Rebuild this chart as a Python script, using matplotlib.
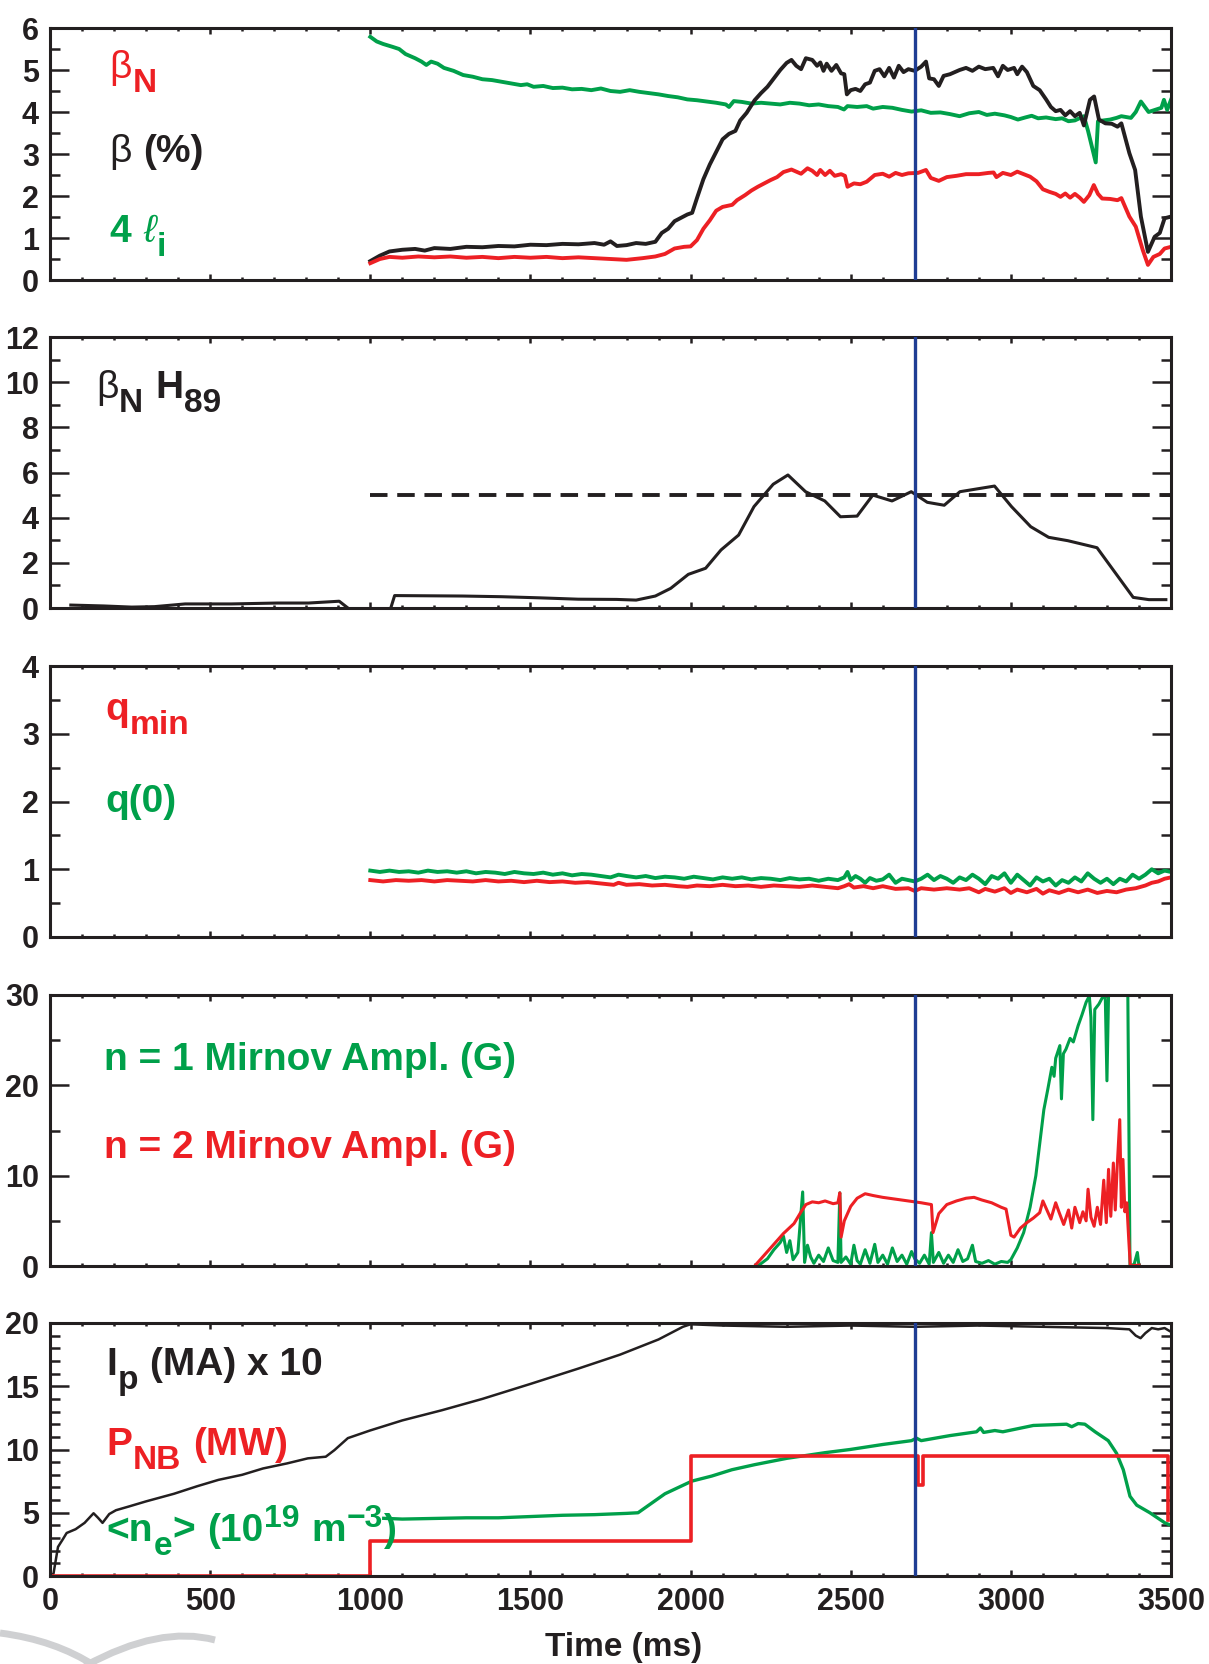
import matplotlib
matplotlib.use("Agg")
import matplotlib.pyplot as plt
from matplotlib import font_manager
from matplotlib.ticker import MultipleLocator
from matplotlib.path import Path
from matplotlib.patches import PathPatch

RED = '#ed2024'
GREEN = '#00a04a'
BLACK = '#231f20'
BLUE = '#1f3d94'
T_MARK = 2700

# panel 1: beta (%), beta_N, 4 li
t_beta = [1000, 1030, 1060, 1100, 1140, 1170, 1200, 1250, 1300, 1350, 1400, 1450, 1500, 1550,
          1600, 1650, 1700, 1730, 1750, 1770, 1800, 1830, 1860, 1890, 1910, 1930, 1950, 1970,
          1990, 2005, 2020, 2040, 2060, 2080, 2100, 2120, 2140, 2155, 2175, 2200, 2220, 2240,
          2260, 2280, 2300, 2315, 2330, 2345, 2360, 2380, 2395, 2405, 2415, 2425, 2440, 2455,
          2470, 2480, 2488, 2500, 2515, 2530, 2545, 2560, 2575, 2590, 2605, 2620, 2635, 2650,
          2665, 2680, 2700, 2720, 2735, 2745, 2760, 2775, 2790, 2810, 2840, 2860, 2880, 2900,
          2920, 2945, 2960, 2975, 2990, 3010, 3020, 3035, 3050, 3070, 3090, 3110, 3125, 3140,
          3155, 3170, 3185, 3200, 3215, 3228, 3247, 3260, 3275, 3295, 3315, 3333, 3345, 3370,
          3388, 3406, 3428, 3449, 3465, 3480, 3500]
beta = [0.45, 0.58, 0.68, 0.72, 0.74, 0.70, 0.76, 0.74, 0.79, 0.78, 0.81, 0.80, 0.84, 0.83,
        0.86, 0.85, 0.88, 0.84, 0.92, 0.81, 0.83, 0.88, 0.86, 0.91, 1.12, 1.22, 1.40, 1.48,
        1.56, 1.60, 1.95, 2.40, 2.75, 3.05, 3.35, 3.48, 3.55, 3.80, 3.98, 4.28, 4.45, 4.60,
        4.80, 5.00, 5.17, 5.24, 5.10, 5.02, 5.28, 5.24, 5.10, 5.18, 4.98, 5.15, 4.98, 5.12,
        4.92, 4.90, 4.42, 4.52, 4.55, 4.50, 4.66, 4.70, 4.98, 5.02, 4.85, 5.05, 4.82, 5.10,
        4.95, 5.02, 4.98, 5.08, 5.20, 4.80, 4.78, 4.62, 4.86, 4.90, 5.00, 5.05, 4.98, 5.08,
        5.02, 5.05, 4.85, 5.10, 5.00, 5.05, 4.90, 5.08, 4.95, 4.62, 4.52, 4.30, 4.12, 4.02,
        4.05, 3.92, 4.02, 3.90, 3.98, 3.68, 4.29, 4.37, 3.82, 3.73, 3.72, 3.65, 3.73, 3.02,
        2.62, 1.51, 0.67, 1.03, 1.12, 1.47, 1.51]

t_betan = [1000, 1030, 1060, 1100, 1150, 1200, 1250, 1300, 1350, 1400, 1450, 1500, 1550, 1600,
           1650, 1700, 1750, 1800, 1850, 1890, 1920, 1950, 1980, 2000, 2020, 2040, 2060, 2080,
           2100, 2130, 2145, 2170, 2190, 2210, 2230, 2250, 2270, 2290, 2315, 2330, 2345, 2365,
           2380, 2395, 2405, 2420, 2435, 2450, 2470, 2482, 2490, 2510, 2530, 2550, 2575, 2600,
           2620, 2640, 2660, 2680, 2710, 2735, 2750, 2775, 2800, 2830, 2860, 2900, 2930, 2946,
           2955, 2975, 3000, 3020, 3040, 3060, 3080, 3100, 3120, 3140, 3155, 3170, 3185, 3200,
           3215, 3228, 3245, 3259, 3272, 3285, 3310, 3333, 3345, 3370, 3390, 3412, 3428, 3445,
           3465, 3480, 3500]
betan = [0.40, 0.50, 0.55, 0.53, 0.56, 0.54, 0.56, 0.53, 0.55, 0.52, 0.55, 0.53, 0.55, 0.52,
         0.54, 0.52, 0.50, 0.48, 0.52, 0.56, 0.62, 0.75, 0.79, 0.80, 0.95, 1.22, 1.42, 1.65,
         1.74, 1.79, 1.90, 2.02, 2.13, 2.22, 2.30, 2.38, 2.45, 2.57, 2.63, 2.58, 2.53, 2.66,
         2.60, 2.50, 2.62, 2.50, 2.60, 2.48, 2.52, 2.48, 2.22, 2.30, 2.28, 2.34, 2.50, 2.53,
         2.46, 2.55, 2.50, 2.54, 2.55, 2.62, 2.43, 2.36, 2.45, 2.48, 2.52, 2.52, 2.55, 2.56,
         2.45, 2.55, 2.50, 2.58, 2.52, 2.46, 2.35, 2.16, 2.10, 2.05, 1.98, 2.06, 1.96, 2.05,
         1.96, 1.86, 2.02, 2.26, 2.05, 1.94, 1.93, 1.90, 1.95, 1.51, 1.27, 0.71, 0.36, 0.55,
         0.62, 0.75, 0.79]

t_li = [1000, 1020, 1040, 1070, 1090, 1110, 1140, 1160, 1175, 1190, 1210, 1230, 1260, 1290,
        1320, 1350, 1380, 1410, 1440, 1470, 1490, 1510, 1540, 1570, 1600, 1630, 1660, 1690,
        1720, 1750, 1780, 1810, 1840, 1870, 1900, 1930, 1960, 1990, 2020, 2050, 2080, 2110,
        2120, 2135, 2160, 2190, 2220, 2250, 2280, 2310, 2340, 2370, 2400, 2430, 2460, 2479,
        2490, 2520, 2550, 2570, 2600, 2630, 2660, 2690, 2720, 2750, 2780, 2810, 2840, 2870,
        2900, 2925, 2950, 2980, 3000, 3022, 3045, 3065, 3085, 3110, 3140, 3160, 3180, 3200,
        3228, 3241, 3265, 3272, 3290, 3310, 3330, 3345, 3375, 3390, 3406, 3430, 3450, 3470,
        3478, 3488, 3500]
li4 = [5.79, 5.68, 5.62, 5.55, 5.50, 5.38, 5.28, 5.20, 5.12, 5.20, 5.15, 5.05, 4.98, 4.88,
       4.84, 4.78, 4.76, 4.72, 4.68, 4.64, 4.66, 4.60, 4.62, 4.57, 4.58, 4.54, 4.55, 4.52,
       4.56, 4.50, 4.48, 4.52, 4.48, 4.45, 4.42, 4.38, 4.35, 4.30, 4.28, 4.25, 4.22, 4.18,
       4.12, 4.26, 4.24, 4.20, 4.22, 4.20, 4.18, 4.22, 4.20, 4.16, 4.18, 4.14, 4.12, 4.06,
       4.14, 4.12, 4.14, 4.08, 4.12, 4.10, 4.05, 4.01, 4.04, 3.98, 3.99, 3.95, 3.90, 3.97,
       4.00, 3.93, 3.96, 3.92, 3.88, 3.82, 3.87, 3.91, 3.85, 3.87, 3.83, 3.85, 3.78, 3.80,
       3.90, 3.55, 2.80, 3.78, 3.80, 3.82, 3.86, 3.90, 3.86, 4.00, 4.25, 4.00, 4.05, 4.10,
       4.29, 4.05, 4.29]

# panel 2: beta_N H89 (gap between the two pieces)
t_bh = [65, 169, 255, 326, 422, 566, 710, 807, 903, 930, 1000, 1064, 1076, 1288, 1410, 1529,
        1649, 1769, 1830, 1890, 1938, 1993, 2047, 2095, 2150, 2198, 2258, 2304, 2359, 2419,
        2468, 2520, 2569, 2629, 2689, 2739, 2792, 2841, 2949, 3002, 3062, 3118, 3178, 3269,
        3327, 3382, 3431, 3484]
bh = [0.13, 0.09, 0.04, 0.06, 0.18, 0.18, 0.22, 0.22, 0.30, 0.0, float('nan'), 0.0, 0.55,
      0.53, 0.50, 0.45, 0.39, 0.38, 0.35, 0.53, 0.87, 1.49, 1.76, 2.57, 3.23, 4.49, 5.48,
      5.89, 5.15, 4.74, 4.04, 4.07, 5.00, 4.74, 5.15, 4.68, 4.55, 5.15, 5.40, 4.49, 3.60,
      3.13, 2.98, 2.67, 1.54, 0.47, 0.37, 0.37]
bh_target = 5.0

# panel 3: q(0) and q_min
t_q0 = [1000, 1030, 1060, 1090, 1120, 1150, 1180, 1210, 1240, 1270, 1300, 1330, 1360, 1390,
        1420, 1450, 1480, 1510, 1540, 1570, 1600, 1630, 1660, 1690, 1720, 1750, 1775, 1800,
        1830, 1860, 1890, 1920, 1950, 1980, 2010, 2040, 2070, 2100, 2130, 2160, 2190, 2220,
        2250, 2280, 2310, 2340, 2370, 2400, 2430, 2460, 2480, 2490, 2500, 2515, 2530, 2545,
        2560, 2580, 2600, 2620, 2640, 2660, 2680, 2700, 2720, 2740, 2760, 2780, 2800, 2820,
        2840, 2860, 2880, 2900, 2920, 2940, 2960, 2980, 3000, 3020, 3040, 3060, 3080, 3100,
        3120, 3140, 3160, 3180, 3200, 3220, 3240, 3260, 3280, 3300, 3320, 3340, 3360, 3380,
        3400, 3420, 3440, 3460, 3480, 3500]
q0 = [0.98, 0.96, 0.98, 0.96, 0.97, 0.95, 0.98, 0.96, 0.97, 0.95, 0.97, 0.94, 0.96, 0.95,
      0.93, 0.96, 0.94, 0.93, 0.95, 0.92, 0.94, 0.91, 0.93, 0.92, 0.90, 0.88, 0.92, 0.90,
      0.88, 0.90, 0.87, 0.89, 0.88, 0.86, 0.89, 0.87, 0.85, 0.88, 0.86, 0.88, 0.85, 0.87,
      0.86, 0.84, 0.87, 0.85, 0.86, 0.83, 0.86, 0.84, 0.88, 0.96, 0.84, 0.90, 0.86, 0.80,
      0.87, 0.83, 0.85, 0.92, 0.80, 0.86, 0.84, 0.82, 0.86, 0.92, 0.84, 0.90, 0.86, 0.80,
      0.88, 0.84, 0.92, 0.86, 0.78, 0.90, 0.86, 0.94, 0.80, 0.92, 0.84, 0.76, 0.88, 0.82,
      0.86, 0.76, 0.84, 0.80, 0.88, 0.82, 0.94, 0.86, 0.80, 0.86, 0.78, 0.86, 0.82, 0.92,
      0.86, 0.92, 1.00, 0.94, 0.98, 0.96]

t_qmin = [1000, 1040, 1080, 1120, 1160, 1200, 1240, 1280, 1320, 1360, 1400, 1440, 1480, 1520,
          1560, 1600, 1640, 1680, 1720, 1760, 1775, 1800, 1840, 1880, 1920, 1960, 1990, 2020,
          2060, 2100, 2140, 2180, 2220, 2260, 2300, 2340, 2380, 2420, 2460, 2480, 2495, 2510,
          2540, 2570, 2600, 2640, 2680, 2700, 2720, 2760, 2800, 2840, 2870, 2900, 2920, 2950,
          2980, 3000, 3020, 3050, 3080, 3100, 3120, 3150, 3180, 3210, 3240, 3270, 3300, 3330,
          3360, 3390, 3420, 3440, 3460, 3480, 3500]
qmin = [0.84, 0.82, 0.84, 0.83, 0.84, 0.82, 0.84, 0.83, 0.82, 0.84, 0.82, 0.83, 0.81, 0.83,
        0.81, 0.82, 0.80, 0.81, 0.79, 0.77, 0.80, 0.77, 0.78, 0.76, 0.77, 0.75, 0.74, 0.76,
        0.75, 0.77, 0.75, 0.76, 0.74, 0.76, 0.75, 0.74, 0.76, 0.74, 0.72, 0.75, 0.78, 0.73,
        0.75, 0.72, 0.75, 0.71, 0.72, 0.68, 0.72, 0.70, 0.72, 0.70, 0.72, 0.66, 0.71, 0.67,
        0.72, 0.65, 0.70, 0.66, 0.71, 0.64, 0.69, 0.65, 0.70, 0.66, 0.70, 0.65, 0.68, 0.66,
        0.70, 0.72, 0.76, 0.80, 0.82, 0.86, 0.88]

# panel 4: Mirnov amplitudes (G)
t_n2 = [2200, 2230, 2260, 2290, 2323, 2345, 2360, 2380, 2400, 2420, 2445, 2460, 2466, 2470,
        2480, 2500, 2520, 2545, 2570, 2600, 2640, 2680, 2720, 2752, 2757, 2775, 2800, 2830,
        2860, 2885, 2910, 2940, 2970, 2985, 3000, 3010, 3030, 3050, 3070, 3090, 3100, 3110,
        3125, 3140, 3150, 3165, 3180, 3190, 3200, 3215, 3225, 3235, 3241, 3250, 3260, 3270,
        3280, 3290, 3298, 3305, 3312, 3320, 3326, 3332, 3340, 3345, 3350, 3356, 3362, 3368,
        3373, 3400]
n2 = [0.0, 1.2, 2.4, 3.6, 4.7, 6.0, 6.8, 7.1, 7.0, 7.2, 6.9, 7.0, 8.1, 3.2,
      5.0, 6.6, 7.5, 8.0, 7.8, 7.6, 7.4, 7.2, 7.0, 6.8, 3.7, 5.8, 6.8, 7.2,
      7.5, 7.6, 7.3, 7.0, 6.5, 6.3, 3.4, 3.2, 4.2, 4.8, 5.3, 5.9, 7.2, 6.4,
      5.2, 7.0, 6.0, 4.6, 6.2, 4.2, 6.5, 4.8, 6.0, 5.0, 8.5, 5.4, 4.4, 6.5,
      4.6, 9.5, 4.8, 10.7, 5.5, 11.4, 6.2, 11.0, 16.2, 6.5, 11.8, 6.0, 7.0, 3.0,
      0.0, 0.1]

t_n1 = [2210, 2240, 2260, 2280, 2290, 2300, 2310, 2320, 2335, 2350, 2356, 2365, 2375, 2385,
        2400, 2415, 2430, 2445, 2460, 2466, 2470, 2485, 2500, 2510, 2520, 2530, 2545, 2560,
        2575, 2585, 2600, 2615, 2630, 2645, 2660, 2675, 2690, 2700, 2715, 2730, 2745, 2752,
        2758, 2775, 2790, 2805, 2820, 2835, 2850, 2865, 2880, 2890, 2910, 2930, 2950, 2970,
        2990, 3000, 3020, 3040, 3060, 3078, 3090, 3103, 3115, 3128, 3135, 3140, 3153, 3158,
        3164, 3172, 3185, 3195, 3210, 3222, 3235, 3245, 3250, 3256, 3262, 3275, 3290, 3295,
        3300, 3305, 3320, 3340, 3365, 3372, 3385, 3395, 3400]
n1 = [0.0, 0.8, 1.8, 2.6, 3.3, 1.5, 2.8, 0.7, 1.5, 8.2, 0.4, 2.3, 1.0, 0.3,
      1.2, 0.5, 2.0, 0.6, 0.4, 8.1, 0.4, 1.0, 0.2, 2.3, 0.6, 0.2, 1.8, 0.3,
      2.4, 0.4, 1.2, 0.2, 2.0, 0.5, 1.2, 0.2, 1.6, 0.8, 0.3, 1.2, 0.2, 3.7,
      0.4, 1.5, 0.3, 1.2, 0.4, 1.8, 0.5, 0.8, 2.3, 0.5, 0.3, 0.6, 0.2, 0.5,
      0.4, 0.7, 2.0, 3.7, 6.5, 10.0, 13.5, 17.3, 19.5, 22.0, 21.0, 23.0, 24.4, 18.5,
      23.5, 24.0, 25.2, 24.8, 26.6, 27.8, 29.2, 29.9, 27.5, 16.2, 28.4, 29.0, 30.0, 29.5,
      20.5, 30.0, 30.5, 31.0, 31.0, 0.0, 0.2, 1.5, 0.0]

# panel 5: Ip (MA) x 10, P_NB (MW), <ne> (1e19 m^-3)
t_ip = [0, 11, 25, 40, 52, 80, 108, 136, 150, 164, 185, 206, 247, 300, 387, 460, 526, 600,
        665, 740, 805, 861, 888, 930, 999, 1100, 1223, 1350, 1502, 1650, 1780, 1900, 1976,
        2000, 2100, 2300, 2500, 2700, 2900, 3100, 3300, 3370, 3390, 3405, 3420, 3440, 3460,
        3480, 3500]
ip = [0.0, 0.2, 2.3, 2.9, 3.4, 3.7, 4.2, 4.96, 4.6, 4.2, 4.9, 5.2, 5.5, 5.9, 6.5, 7.1, 7.6,
      8.0, 8.5, 8.9, 9.3, 9.43, 9.95, 10.9, 11.5, 12.3, 13.1, 14.0, 15.2, 16.4, 17.5, 18.7,
      19.7, 19.9, 19.8, 19.7, 19.8, 19.7, 19.8, 19.7, 19.6, 19.5, 19.0, 18.8, 19.2, 19.6,
      19.5, 19.6, 19.3]

t_pnb = [0, 1000, 1000, 2000, 2000, 2710, 2710, 2726, 2726, 3490, 3490]
pnb = [0.0, 0.0, 2.8, 2.8, 9.5, 9.5, 7.2, 7.2, 9.5, 9.5, 4.4]

t_ne = [1042, 1100, 1200, 1300, 1400, 1500, 1600, 1700, 1800, 1836, 1864, 1920, 2004, 2066,
        2129, 2200, 2300, 2420, 2498, 2601, 2690, 2705, 2720, 2810, 2893, 2905, 2915, 2950,
        2975, 3070, 3174, 3190, 3210, 3231, 3263, 3304, 3330, 3351, 3372, 3393, 3434, 3481,
        3500]
ne = [4.56, 4.5, 4.55, 4.6, 4.6, 4.7, 4.8, 4.85, 4.95, 5.0, 5.5, 6.5, 7.5, 7.9,
      8.4, 8.8, 9.3, 9.75, 10.0, 10.4, 10.7, 10.9, 10.7, 11.1, 11.4, 11.7, 11.35, 11.5,
      11.4, 11.9, 12.0, 11.8, 12.05, 12.0, 11.4, 10.7, 9.7, 8.4, 6.3, 5.6, 5.0, 4.2,
      4.0]


def pick_narrow():
    names = {f.name for f in font_manager.fontManager.ttflist}
    for name in ['Liberation Sans Narrow', 'DejaVu Sans Condensed', 'Liberation Sans']:
        if name in names:
            return name
    return 'DejaVu Sans'


NARROW = pick_narrow()
plt.rcParams['font.family'] = [NARROW, 'DejaVu Sans']
plt.rcParams['font.weight'] = 'bold'
plt.rcParams['text.color'] = BLACK


def style_axis(ax, ymax, major, minor, xlabels=False):
    ax.set_xlim(0, 3500)
    ax.set_ylim(0, ymax)
    ax.xaxis.set_major_locator(MultipleLocator(500))
    ax.xaxis.set_minor_locator(MultipleLocator(100))
    ax.yaxis.set_major_locator(MultipleLocator(major))
    ax.yaxis.set_minor_locator(MultipleLocator(minor))
    ax.tick_params(which='both', direction='in', top=True, right=True, width=1.8,
                   color=BLACK, labelcolor=BLACK)
    ax.tick_params(axis='y', which='major', length=14, labelsize=22, pad=8)
    ax.tick_params(axis='y', which='minor', length=7)
    ax.tick_params(axis='x', which='major', length=4, labelsize=22, pad=8)
    ax.tick_params(axis='x', which='minor', length=2.5)
    if not xlabels:
        ax.tick_params(axis='x', labelbottom=False)
    for s in ax.spines.values():
        s.set_linewidth(2.2)
        s.set_color(BLACK)
    ax.axvline(T_MARK, color=BLUE, lw=2.4, zorder=5)


fig = plt.figure(figsize=(12.09, 16.64), dpi=100)
renderer = fig.canvas.get_renderer()


def note(ax, x, y, parts, color, size=28):
    # parts: (text, kind) with kind n / thin / it / sub / sup / gap
    off = 0.0
    for s, kind in parts:
        if kind == 'gap':
            off += 0.28 * size
            continue
        fs, dy, weight, style = size, 0.0, 'bold', 'normal'
        if kind == 'sub':
            fs, dy = 0.86 * size, -0.36 * size
        elif kind == 'sup':
            fs, dy = 0.82 * size, 0.36 * size
        elif kind == 'thin':
            weight = 'normal'
        elif kind == 'it':
            weight, style = 'normal', 'italic'
        t = ax.annotate(s, xy=(x, y), xycoords='axes fraction', xytext=(off, dy),
                        textcoords='offset points', fontsize=fs, fontweight=weight,
                        fontstyle=style, color=color, ha='left', va='baseline')
        off += t.get_window_extent(renderer).width * 72 / fig.dpi + 0.02 * size


L, W = 50 / 1209, 1121 / 1209
rows = [(28, 280), (337, 608), (666, 937), (995, 1266), (1323, 1576)]
axes = [fig.add_axes([L, 1 - b / 1664, W, (b - t) / 1664]) for t, b in rows]
ax1, ax2, ax3, ax4, ax5 = axes

# panel 1
ax1.plot(t_li, li4, color=GREEN, lw=2.8)
ax1.plot(t_beta, beta, color=BLACK, lw=2.8)
ax1.plot(t_betan, betan, color=RED, lw=2.8)
style_axis(ax1, 6, 1, 0.5)
note(ax1, 0.053, 0.80, [('β', 'thin'), ('N', 'sub')], RED)
note(ax1, 0.053, 0.47, [('β', 'thin'), ('', 'gap'), ('(%)', 'n')], BLACK)
note(ax1, 0.053, 0.15, [('4', 'n'), ('', 'gap'), ('ℓ', 'it'), ('i', 'sub')], GREEN)

# panel 2
ax2.plot(t_bh, bh, color=BLACK, lw=2.2)
ax2.plot([1000, 3500], [bh_target, bh_target], color=BLACK, lw=2.8, ls=(0, (4.5, 2.5)))
style_axis(ax2, 12, 2, 1)
note(ax2, 0.041, 0.775, [('β', 'thin'), ('N', 'sub'), ('', 'gap'), ('H', 'n'),
                         ('89', 'sub')], BLACK)

# panel 3
ax3.plot(t_q0, q0, color=GREEN, lw=2.8)
ax3.plot(t_qmin, qmin, color=RED, lw=2.8)
style_axis(ax3, 4, 1, 0.5)
note(ax3, 0.049, 0.80, [('q', 'n'), ('min', 'sub')], RED)
note(ax3, 0.049, 0.46, [('q(0)', 'n')], GREEN)

# panel 4
ax4.plot(t_n1, n1, color=GREEN, lw=2.2)
ax4.plot(t_n2, n2, color=RED, lw=2.2)
style_axis(ax4, 30, 10, 5)
note(ax4, 0.048, 0.725, [('n = 1 Mirnov Ampl. (G)', 'n')], GREEN)
note(ax4, 0.048, 0.40, [('n = 2 Mirnov Ampl. (G)', 'n')], RED)

# panel 5
ax5.plot(t_ip, ip, color=BLACK, lw=1.8)
ax5.plot(t_ne, ne, color=GREEN, lw=2.4)
ax5.plot(t_pnb, pnb, color=RED, lw=2.6)
style_axis(ax5, 20, 5, 1, xlabels=True)
note(ax5, 0.05, 0.795, [('I', 'n'), ('p', 'sub'), ('', 'gap'), ('(MA) x 10', 'n')], BLACK)
note(ax5, 0.05, 0.478, [('P', 'n'), ('NB', 'sub'), ('', 'gap'), ('(MW)', 'n')], RED)
note(ax5, 0.05, 0.14, [('<n', 'n'), ('e', 'sub'), ('>', 'n'), ('', 'gap'), ('(10', 'n'),
                       ('19', 'sup'), ('', 'gap'), ('m', 'n'), ('−3', 'sup'), (')', 'n')],
     GREEN)

# end labels of each y axis sit inside the frame
fig.canvas.draw()
for ax in axes:
    ticks = ax.yaxis.get_major_ticks()
    labels = [tk for tk in ticks if tk.label1.get_text() != '']
    if labels:
        labels[0].label1.set_verticalalignment('bottom')
        labels[-1].label1.set_verticalalignment('top')

fig.text(624 / 1209, 1 - 1656 / 1664, 'Time (ms)', fontsize=24, fontweight='bold',
         ha='center', va='baseline', color=BLACK)


# faint swoosh in the lower-left corner
def swoosh(pts, lw):
    verts = [(x / 1209, 1 - y / 1664) for x, y in pts]
    codes = [Path.MOVETO] + [Path.CURVE3] * (len(verts) - 1)
    fig.add_artist(PathPatch(Path(verts, codes), fill=False, ec='#cfd0d2', lw=lw,
                             transform=fig.transFigure))


swoosh([(0, 1633), (55, 1640), (95, 1666)], 5)
swoosh([(85, 1666), (160, 1625), (215, 1640)], 5)

fig.savefig('out.png', dpi=100)
